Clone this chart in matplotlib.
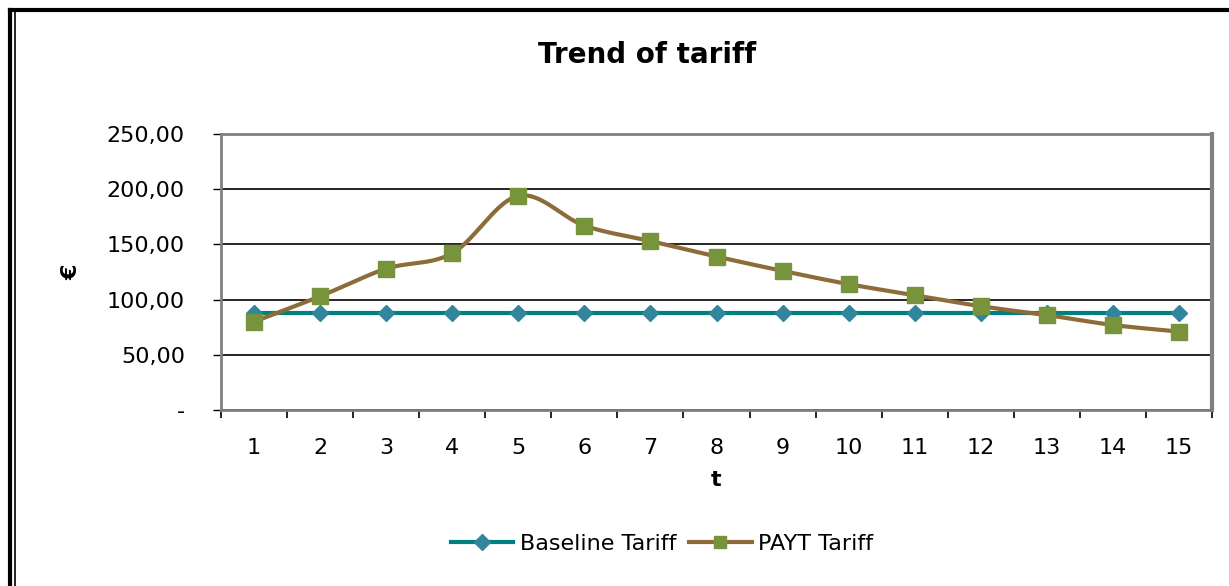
import numpy as np
import matplotlib.pyplot as plt
from matplotlib.lines import Line2D

periods = list(range(1, 16))
baseline = [88] * 15
payt = [80, 103, 128, 142, 194, 167, 153, 139, 126, 114, 104, 94, 86, 77, 71]
yticks = [0, 50, 100, 150, 200, 250]
ylabels = ['-', '50,00', '100,00', '150,00', '200,00', '250,00']

plt.rcParams['font.family'] = ['DejaVu Sans']


def smooth(xs, ys, n=20):
    # Catmull-Rom curve through the points, like Excel's smoothed line
    xs = np.asarray(xs, float)
    ys = np.asarray(ys, float)
    px = np.concatenate([[2 * xs[0] - xs[1]], xs, [2 * xs[-1] - xs[-2]]])
    py = np.concatenate([[2 * ys[0] - ys[1]], ys, [2 * ys[-1] - ys[-2]]])
    outx, outy = [], []
    t = np.linspace(0, 1, n, endpoint=False)
    for i in range(1, len(px) - 2):
        for p, out in ((px, outx), (py, outy)):
            p0, p1, p2, p3 = p[i - 1], p[i], p[i + 1], p[i + 2]
            out.extend(0.5 * ((2 * p1) + (-p0 + p2) * t
                              + (2 * p0 - 5 * p1 + 4 * p2 - p3) * t ** 2
                              + (-p0 + 3 * p1 - 3 * p2 + p3) * t ** 3))
    outx.append(xs[-1])
    outy.append(ys[-1])
    return outx, outy


fig = plt.figure(figsize=(12.29, 5.86), dpi=100)
ax = fig.add_axes([221 / 1229, 1 - 410 / 586, (1212 - 221) / 1229, (410 - 134) / 586])

teal = '#008080'
diamond = '#31859C'
brown = '#8E6C3A'
green = '#77933C'

ax.plot(periods, baseline, color=teal, lw=3, marker='D', markersize=8,
        markerfacecolor=diamond, markeredgecolor=diamond, label='Baseline Tariff', zorder=3)
sx, sy = smooth(periods, payt)
ax.plot(sx, sy, color=brown, lw=3, zorder=4)
ax.plot(periods, payt, ls='none', marker='s', markersize=11,
        markerfacecolor=green, markeredgecolor=green, zorder=5)

ax.set_xlim(0.5, 15.5)
ax.set_ylim(0, 250)
ax.set_yticks(yticks)
ax.set_yticklabels(ylabels, fontsize=16)
ax.set_xticks(periods)
ax.set_xticklabels([str(p) for p in periods], fontsize=16)
ax.set_xticks(np.arange(0.5, 16, 1), minor=True)
ax.tick_params(axis='x', which='major', length=0, pad=20)
ax.tick_params(axis='x', which='minor', length=6, width=1.2, direction='out')
ax.tick_params(axis='y', length=6, width=1, direction='out', pad=20)
ax.grid(axis='y', color='black', lw=1.2)
ax.set_axisbelow(True)
for side in ['left', 'bottom', 'top', 'right']:
    ax.spines[side].set_color('#808080')
ax.spines['left'].set_linewidth(2)
ax.spines['bottom'].set_linewidth(2)
ax.spines['top'].set_linewidth(2)
ax.spines['right'].set_linewidth(3)

ax.set_xlabel('t', fontsize=16, fontweight='bold', labelpad=9)
ax.set_ylabel('€', fontsize=16, fontweight='bold', labelpad=18)
fig.text(647 / 1229, 1 - 55 / 586, 'Trend of tariff', fontsize=20, fontweight='bold',
         ha='center', va='center')

handles = [
    Line2D([], [], color=teal, lw=3, marker='D', markersize=8,
           markerfacecolor=diamond, markeredgecolor=diamond),
    Line2D([], [], color=brown, lw=3, marker='s', markersize=9,
           markerfacecolor=green, markeredgecolor=green),
]
fig.legend(handles, ['Baseline Tariff', 'PAYT Tariff'], loc='center',
           bbox_to_anchor=(662 / 1229, 1 - 544 / 586), ncol=2, frameon=False,
           fontsize=16, handlelength=2.8, handletextpad=0.3, columnspacing=0.6)

# outer chart border (top and left only visible)
fig.add_artist(Line2D([10 / 1229, 1], [1 - 10 / 586, 1 - 10 / 586], color='black', lw=3,
                      transform=fig.transFigure))
fig.add_artist(Line2D([10 / 1229, 10 / 1229], [0, 1 - 10 / 586], color='black', lw=3,
                      transform=fig.transFigure))
fig.add_artist(Line2D([15 / 1229, 15 / 1229], [0, 1 - 12 / 586], color='black', lw=1.2,
                      transform=fig.transFigure))

fig.savefig('out.png', dpi=100)
